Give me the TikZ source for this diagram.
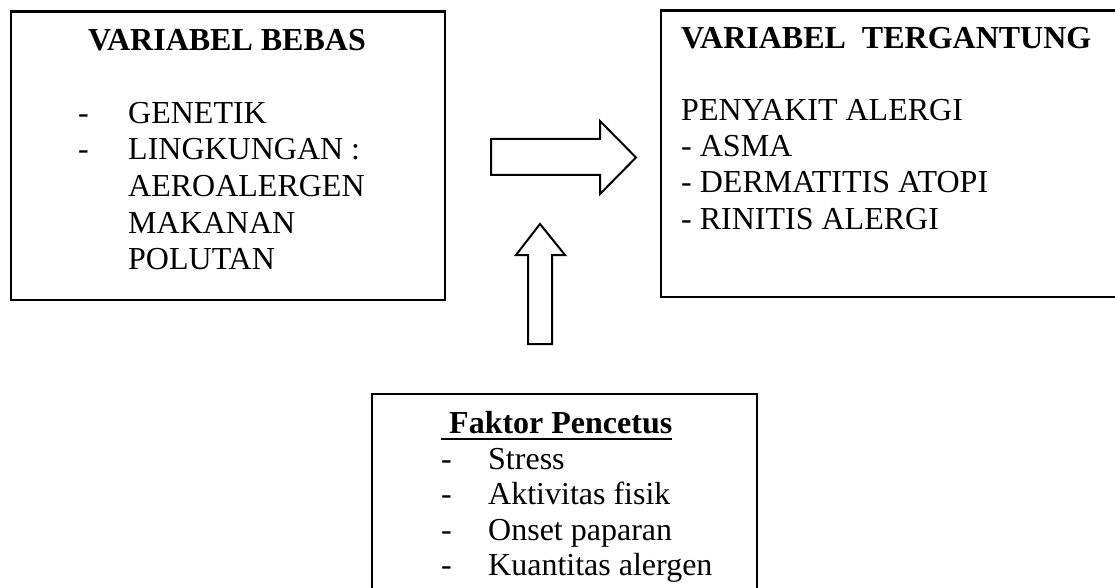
\documentclass[tikz,border=0pt]{standalone}
\usepackage{fontspec}
\setmainfont{Liberation Serif}
\begin{document}
\begin{tikzpicture}[x=1pt,y=-1pt,
  box/.style={draw, line width=2.2pt, inner sep=0pt, anchor=north west},
  ttl/.style={font=\fontsize{32}{36}\selectfont\bfseries, inner sep=0pt},
  txt/.style={font=\fontsize{32}{36}\selectfont, inner sep=0pt, anchor=base west},
  blockarrow/.style={draw, line width=2pt, line join=miter}]
\useasboundingbox (0,0) rectangle (1115,588);

% boxes
\node[box, minimum width=434pt, minimum height=288pt] (lb) at (10,10.5) {};
\node[box, minimum width=480pt, minimum height=286pt] (rb) at (660,9.5) {};
\node[box, minimum width=385pt, minimum height=260pt] (bb) at (371,393) {};

% left box text
\node[ttl, anchor=base] (lt) at (227,50.5) {VARIABEL BEBAS};
\node[txt] (ld1) at (78,123.5) {-};
\node[txt] (ld2) at (78,160) {-};
\node[txt] (l1) at (128,123.5) {GENETIK};
\node[txt] (l2) at (128,160) {LINGKUNGAN :};
\node[txt] (l3) at (128,196.5) {AEROALERGEN};
\node[txt] (l4) at (128,233) {MAKANAN};
\node[txt] (l5) at (128,269.5) {POLUTAN};

% right box text
\node[ttl, anchor=base west] (rt) at (681,48.5) {VARIABEL\ \ TERGANTUNG};
\node[txt] (r1) at (681,121) {PENYAKIT ALERGI};
\node[txt] (r2) at (681,157) {- ASMA};
\node[txt] (r3) at (681,193) {- DERMATITIS ATOPI};
\node[txt] (r4) at (681,229) {- RINITIS ALERGI};

% bottom box text
\node[ttl, anchor=base west] (ft) at (449,433) {Faktor Pencetus};
\draw[line width=2pt] ([xshift=-8pt,yshift=-5.5pt]ft.base west) -- ([yshift=-5.5pt]ft.base east);
\foreach \y/\t [count=\i] in {469/Stress, 504.5/Aktivitas fisik, 540/Onset paparan, 575.5/Kuantitas alergen}{
  \node[txt] (bd\i) at (441,\y) {-};
  \node[txt] (b\i) at (488,\y) {\t};
}

% block arrows
\draw[blockarrow] (491,139) -- (600,139) -- (600,121) -- (636,157.5) -- (600,194) -- (600,175) -- (491,175) -- cycle;
\draw[blockarrow] (528,344) -- (528,255) -- (516,255) -- (540,224) -- (565,255) -- (552,255) -- (552,344) -- cycle;
\end{tikzpicture}
\end{document}
